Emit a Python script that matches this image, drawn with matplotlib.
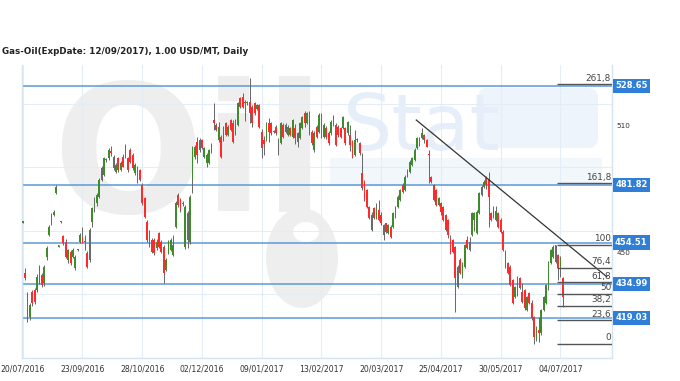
import numpy as np
import matplotlib
matplotlib.use("Agg")
import matplotlib.pyplot as plt
from matplotlib.patches import Rectangle, Ellipse, FancyBboxPatch
from matplotlib.transforms import blended_transform_factory

# ---- chart data -------------------------------------------------------------
title = "Gas-Oil(ExpDate: 12/09/2017), 1.00 USD/MT, Daily"
date_labels = ["20/07/2016", "23/09/2016", "28/10/2016", "02/12/2016", "09/01/2017",
               "13/02/2017", "20/03/2017", "25/04/2017", "30/05/2017", "04/07/2017"]
date_step = 25  # bars between date labels

opens = [464.0, 440.1, 430.5, 419.6, 431.3, 432.1, 432.1, 436.0, 439.2, 435.3,
         447.8, 458.1, 463.6, 467.5, 478.1, 452.6, 464.6, 457.4, 455.0, 446.3,
         450.2, 447.8, 442.4, 451.2, 455.0, 456.6, 454.7, 449.5, 446.4, 464.4,
         471.0, 473.1, 476.2, 484.1, 486.5, 493.8, 494.3, 498.0, 495.1, 488.0,
         494.4, 488.8, 495.1, 495.1, 494.4, 498.3, 495.9, 487.2, 489.6, 488.8,
         481.7, 475.4, 464.4, 459.7, 455.7, 455.7, 451.8, 458.9, 455.0, 452.6,
         441.6, 449.5, 451.0, 448.7, 462.1, 477.0, 474.6, 473.3, 452.6, 468.6,
         454.7, 484.0, 495.1, 502.0, 498.3, 503.0, 495.1, 492.0, 492.0, 497.5,
         512.4, 510.1, 503.0, 504.5, 503.0, 510.9, 505.4, 512.4, 510.9, 506.1,
         510.1, 522.7, 523.5, 520.9, 520.3, 521.1, 518.7, 520.3, 517.5, 519.5,
         506.9, 503.0, 503.0, 510.9, 510.9, 507.1, 509.3, 500.4, 501.4, 510.1,
         506.9, 505.4, 508.5, 504.5, 508.5, 502.2, 503.8, 508.5, 515.6, 510.9,
         515.6, 506.9, 498.3, 509.3, 506.9, 514.8, 504.5, 508.5, 506.1, 506.1,
         510.1, 510.1, 509.3, 508.5, 508.5, 508.5, 506.1, 505.4, 502.2, 495.9,
         503.2, 501.4, 487.3, 483.3, 479.4, 471.5, 467.5, 470.7, 466.0, 469.9,
         467.5, 462.8, 463.6, 458.9, 462.0, 462.0, 466.7, 471.5, 474.6, 481.7,
         479.4, 486.5, 488.0, 491.2, 493.6, 499.1, 503.9, 503.9, 505.4, 503.0,
         496.1, 485.6, 481.7, 479.4, 472.3, 473.1, 471.5, 467.5, 465.2, 457.3,
         455.7, 452.6, 433.6, 446.3, 438.5, 443.1, 455.7, 451.0, 458.1, 465.2,
         458.9, 468.4, 477.0, 481.0, 484.9, 484.1, 468.4, 471.5, 465.2, 468.4,
         465.2, 459.7, 450.2, 444.7, 443.1, 436.8, 428.9, 429.7, 437.6, 431.3,
         432.1, 422.6, 430.5, 425.8, 419.5, 408.5, 413.2, 411.6, 422.6, 425.8,
         434.5, 444.7, 447.8, 453.4, 448.7, 443.1, 437.6]
highs = [464.8, 442.4, 431.3, 426.0, 432.0, 433.0, 439.5, 444.0, 440.0, 444.0,
         453.0, 463.0, 468.5, 469.8, 481.5, 453.5, 464.8, 458.0, 456.0, 451.5,
         451.0, 452.0, 448.5, 451.5, 459.0, 462.0, 458.0, 450.5, 461.5, 471.5,
         476.0, 478.0, 485.0, 490.5, 495.0, 494.5, 499.0, 500.0, 496.0, 492.0,
         495.0, 493.0, 496.5, 501.0, 495.0, 499.0, 497.0, 492.0, 490.5, 489.5,
         482.5, 476.0, 465.0, 460.5, 456.5, 456.5, 456.0, 459.5, 455.8, 453.5,
         447.0, 455.8, 456.5, 458.0, 474.0, 478.0, 475.5, 474.0, 472.5, 469.5,
         477.0, 500.0, 500.5, 504.5, 504.0, 503.5, 499.5, 497.0, 498.8, 501.5,
         520.3, 511.0, 511.6, 505.5, 509.5, 511.5, 510.0, 513.0, 512.5, 513.0,
         521.0, 523.5, 525.0, 522.0, 521.5, 532.1, 519.5, 521.0, 520.0, 520.0,
         508.0, 505.0, 511.5, 513.5, 511.5, 507.5, 510.0, 503.8, 511.5, 510.8,
         510.8, 510.0, 509.0, 513.0, 510.5, 506.8, 511.5, 514.5, 516.5, 516.0,
         516.5, 507.5, 507.0, 510.0, 515.5, 515.5, 511.0, 509.5, 507.0, 512.5,
         515.0, 511.0, 510.0, 509.0, 514.5, 509.0, 512.0, 510.0, 503.0, 507.7,
         504.0, 502.0, 496.7, 484.0, 480.0, 472.0, 469.1, 471.5, 473.0, 474.5,
         469.0, 463.5, 464.0, 463.5, 462.8, 469.0, 472.0, 476.8, 480.0, 482.5,
         486.5, 489.5, 493.5, 495.0, 499.0, 504.5, 504.5, 508.5, 506.0, 503.5,
         498.3, 486.0, 482.3, 480.0, 476.2, 473.5, 472.0, 468.0, 465.8, 458.0,
         456.3, 453.0, 444.0, 447.0, 445.3, 454.0, 457.5, 457.0, 469.0, 469.0,
         470.0, 478.5, 481.8, 484.0, 486.0, 488.0, 469.0, 472.0, 471.8, 469.0,
         466.0, 460.5, 451.0, 445.3, 443.8, 437.3, 434.2, 438.9, 438.1, 435.5,
         432.6, 429.5, 431.0, 427.5, 420.0, 415.3, 419.5, 423.1, 429.5, 435.0,
         446.0, 451.5, 453.4, 453.6, 449.2, 448.3, 438.1]
lows = [463.8, 436.8, 417.1, 418.0, 424.5, 425.5, 431.0, 435.0, 433.5, 434.0,
        446.5, 457.5, 463.0, 467.0, 477.5, 452.3, 464.0, 453.5, 447.0, 444.8,
        444.0, 447.0, 441.5, 450.5, 454.5, 454.2, 451.0, 442.4, 445.5, 462.0,
        469.0, 472.0, 475.5, 483.5, 486.0, 492.5, 493.5, 495.5, 489.0, 487.5,
        488.0, 488.3, 490.0, 494.5, 488.0, 492.0, 489.0, 486.5, 482.5, 483.5,
        472.5, 466.0, 455.0, 452.6, 449.5, 448.5, 451.0, 452.0, 449.5, 435.3,
        441.0, 449.0, 450.5, 448.0, 461.5, 471.5, 469.0, 472.0, 451.5, 452.0,
        454.0, 478.0, 494.0, 492.0, 497.5, 498.5, 494.5, 490.0, 491.5, 497.0,
        507.7, 507.0, 502.2, 494.5, 502.5, 505.0, 505.0, 507.0, 501.5, 505.5,
        509.5, 518.0, 518.0, 512.0, 519.5, 510.9, 509.0, 515.0, 517.0, 508.5,
        494.3, 496.0, 502.5, 502.0, 505.5, 506.3, 505.5, 495.9, 501.0, 504.0,
        506.5, 505.0, 505.0, 504.0, 501.0, 499.5, 503.3, 508.0, 509.3, 510.5,
        505.5, 500.5, 497.5, 504.0, 506.5, 504.0, 504.0, 503.5, 500.5, 505.5,
        509.5, 500.0, 504.5, 504.0, 508.0, 500.5, 505.5, 498.0, 494.5, 495.5,
        502.0, 496.0, 479.5, 474.0, 471.0, 465.5, 460.0, 465.5, 465.5, 464.5,
        463.0, 455.7, 459.0, 458.5, 456.5, 461.5, 466.0, 471.0, 474.0, 478.0,
        479.0, 485.5, 487.5, 490.5, 493.0, 498.5, 500.0, 503.5, 501.5, 499.5,
        482.5, 482.5, 474.0, 471.8, 471.8, 467.5, 464.8, 460.0, 456.6, 449.0,
        449.8, 421.8, 433.0, 439.5, 438.0, 442.5, 451.3, 450.5, 457.5, 460.0,
        458.5, 468.0, 476.5, 480.5, 480.0, 462.1, 464.8, 466.3, 464.8, 461.5,
        459.0, 450.5, 442.5, 439.5, 434.0, 425.3, 428.4, 429.2, 432.4, 426.0,
        422.9, 422.1, 425.3, 418.0, 406.8, 408.0, 407.7, 411.0, 422.1, 425.3,
        432.0, 444.2, 447.3, 445.0, 436.8, 438.4, 424.2]
closes = [464.5, 437.7, 418.7, 425.0, 425.8, 426.6, 438.4, 442.4, 434.5, 443.1,
          451.8, 462.0, 467.5, 469.1, 480.9, 453.2, 464.2, 454.2, 447.8, 451.0,
          444.7, 451.0, 447.8, 450.8, 458.1, 454.5, 455.5, 443.1, 460.6, 470.7,
          472.0, 477.0, 484.0, 489.6, 494.3, 493.3, 498.3, 497.0, 489.6, 491.2,
          488.8, 492.0, 490.4, 499.8, 488.8, 492.7, 489.7, 491.2, 485.6, 484.1,
          473.1, 466.7, 455.7, 454.2, 450.2, 449.5, 455.0, 452.6, 450.2, 440.0,
          446.3, 455.0, 455.7, 453.4, 473.1, 472.3, 469.9, 472.9, 471.5, 455.8,
          476.0, 499.3, 499.8, 496.0, 503.0, 499.1, 499.1, 496.0, 498.3, 500.6,
          510.8, 507.7, 509.0, 495.1, 508.5, 505.4, 509.3, 507.7, 502.2, 512.4,
          520.3, 518.7, 518.7, 520.3, 520.9, 515.6, 510.9, 515.6, 519.5, 509.3,
          499.1, 501.0, 510.9, 506.9, 506.1, 506.7, 506.1, 500.0, 510.9, 504.5,
          510.1, 509.3, 505.4, 512.4, 503.8, 506.1, 510.9, 514.0, 510.9, 515.6,
          506.1, 501.4, 506.1, 504.5, 514.8, 504.5, 510.1, 504.5, 501.4, 511.6,
          513.2, 500.6, 505.4, 504.5, 514.0, 501.4, 511.6, 500.6, 495.1, 503.0,
          502.8, 496.7, 480.1, 474.6, 471.5, 466.0, 460.5, 466.0, 469.9, 465.2,
          463.6, 458.1, 459.7, 462.8, 457.3, 468.3, 471.5, 476.2, 479.4, 478.6,
          485.6, 488.8, 492.7, 494.3, 498.3, 503.9, 500.6, 506.1, 503.0, 499.9,
          495.7, 483.3, 474.6, 472.3, 475.4, 469.1, 465.2, 460.5, 458.1, 449.5,
          450.2, 437.7, 443.1, 440.0, 444.8, 453.4, 451.8, 455.0, 468.4, 468.4,
          469.2, 477.8, 481.0, 483.3, 481.7, 476.2, 465.2, 466.8, 469.5, 462.1,
          459.7, 451.0, 443.1, 440.0, 434.5, 425.8, 433.7, 438.4, 432.9, 426.6,
          423.4, 429.0, 425.8, 418.7, 410.0, 414.8, 411.6, 422.6, 429.0, 434.5,
          445.5, 451.0, 452.6, 445.5, 442.4, 447.8, 428.9]

level_values = [528.65, 481.82, 454.51, 434.99, 419.03]
right_ticks = [450, 510]
grid_prices = [430, 460, 490, 520]

fib_ratios = [0, 23.6, 38.2, 50, 61.8, 76.4, 100, 161.8, 261.8]
fib_low = 406.8
fib_high = 453.6
fib_start = 223.5

trend_x = [164.7, 244.4]
trend_y = [512.4, 438.4]

# ---- styling ----------------------------------------------------------------
up_col = "#3d8b2a"
down_col = "#ff2b2b"
wick_col = "#666666"
level_col = "#5a9ad8"
box_col = "#2f7ed8"
grid_col = "#e3edf8"
frame_col = "#d5e4f2"

fig = plt.figure(figsize=(6.8, 3.81), dpi=100)
fig.patch.set_facecolor("white")

# watermark layer in pixel coordinates
bg = fig.add_axes([0, 0, 1, 1], zorder=0)
bg.set_xlim(0, 680)
bg.set_ylim(381, 0)
bg.axis("off")
bg.text(52, 212, "Oil", fontsize=128, fontweight="bold", color="#eeeeee",
        ha="left", va="baseline")
bg.add_patch(Ellipse((302, 258), 72, 100, color="#eeeeee", lw=0))
bg.add_patch(Ellipse((306, 232), 26, 20, color="white", lw=0))
bg.add_patch(Rectangle((330, 158), 272, 28, color="#f2f7fc", lw=0))
bg.add_patch(FancyBboxPatch((478, 88), 120, 60, boxstyle="round,pad=0,rounding_size=10",
                            color="#edf4fb", lw=0))
bg.text(343, 150, "Stat", fontsize=56, color="#e6eff9", ha="left", va="baseline")

# main price axes
ax = fig.add_axes([22 / 680, 23 / 381, 590 / 680, 293 / 381], zorder=1)
ax.patch.set_alpha(0)

n = len(closes)
x = np.arange(n)
o = np.array(opens)
c = np.array(closes)
h = np.maximum(np.array(highs), np.maximum(o, c))
l = np.minimum(np.array(lows), np.minimum(o, c))
xmin, xmax = -0.3, 246.6
ax.set_xlim(xmin, xmax)
ax.set_ylim(400.0, 538.4)

for k in range(0, n, date_step):
    ax.axvline(k, color=grid_col, lw=0.8, zorder=1)
for g in grid_prices:
    ax.axhline(g, color=grid_col, lw=0.8, zorder=1)

for v in level_values:
    ax.axhline(v, color=level_col, lw=1.1, zorder=2)

ax.vlines(x, l, h, color=wick_col, lw=0.7, zorder=3)
up = c >= o
body_low = np.minimum(o, c)
body_h = np.maximum(np.abs(c - o), 0.5)
ax.bar(x[up], body_h[up], bottom=body_low[up], width=0.72, color=up_col, lw=0, zorder=4)
ax.bar(x[~up], body_h[~up], bottom=body_low[~up], width=0.72, color=down_col, lw=0, zorder=4)

# trend line
ax.plot(trend_x, trend_y, color="#333333", lw=0.9, zorder=5)

# fibonacci levels
for r in fib_ratios:
    p = fib_low + (fib_high - fib_low) * r / 100.0
    ax.hlines(p, fib_start, xmax, color="#555555", lw=1.0, zorder=5)
    lab = ("%g" % r).replace(".", ",")
    ax.annotate(lab, (xmax - 0.4, p), xytext=(0, 1.2), textcoords="offset points",
                ha="right", va="bottom", fontsize=6.4, color="#444444", zorder=6)

# level value boxes on the right
trans = blended_transform_factory(ax.transAxes, ax.transData)
box_w = 37.5 / 590
box_hh = 7.1 / (293 / 138.4)
for v in level_values:
    ax.add_patch(Rectangle((1.001, v - box_hh), box_w, 2 * box_hh, transform=trans,
                           color=box_col, lw=0, clip_on=False, zorder=10))
    ax.text(1.001 + box_w / 2, v, "%.2f" % v, transform=trans, ha="center", va="center",
            color="white", fontsize=6.0, fontweight="bold", clip_on=False, zorder=11)

# axes cosmetics
ax.set_xticks(list(range(0, date_step * len(date_labels), date_step)))
ax.set_xticklabels(date_labels)
ax.tick_params(axis="x", length=0, pad=4.5, labelsize=5.6, labelcolor="#333333")
ax.yaxis.tick_right()
ax.set_yticks(right_ticks)
ax.set_yticklabels([str(t) for t in right_ticks])
ax.tick_params(axis="y", length=0, pad=3.5, labelsize=5.2, labelcolor="#333333")
for side in ["left", "right", "bottom"]:
    ax.spines[side].set_color(frame_col)
    ax.spines[side].set_linewidth(1.0)
ax.spines["top"].set_visible(False)

fig.text(2 / 680, 1 - 52 / 381, title, ha="left", va="center", fontsize=6.3,
         fontweight="bold", color="#222222")

fig.savefig("out.png", dpi=100)
